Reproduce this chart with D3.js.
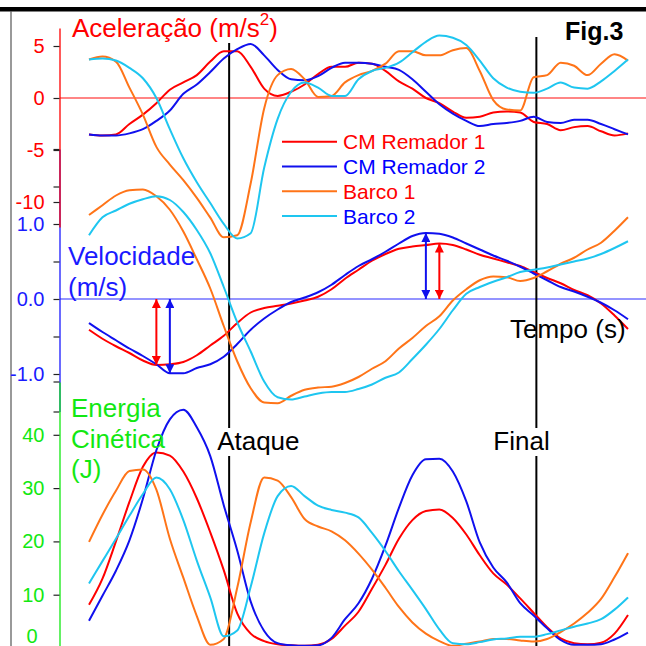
<!DOCTYPE html>
<html>
<head>
<meta charset="utf-8">
<script src="https://cdn.jsdelivr.net/npm/d3@7"></script>
<style>
body { margin: 0; background: #fff; }
svg { display: block; font-family: "Liberation Sans", Arial, sans-serif; }
</style>
</head>
<body>
<svg id="chart" width="646" height="646"></svg>
<script>
'use strict';
// tempo (s): one sample every 0.05 s
const tempo = d3.range(41).map(i => +(i * 0.05).toFixed(2))

const series = ["CM Remador 1", "CM Remador 2", "Barco 1", "Barco 2"]
const cores = ["#ff0000", "#1010ee", "#ff7418", "#1ec6f0"]
const coresTexto = ["#ff0000", "#0000ff", "#ff0000", "#0000ff"]

// Aceleração (m/s2)
const acelRemador1 = [-3.5,-3.6,-3.5,-2.5,-1.6,-0.5,0.8,1.5,2.2,3.5,4.5,4.5,3.0,0.9,0.2,0.6,1.3,2.3,3.0,3.0,3.4,3.3,2.6,1.6,0.9,0.0,-0.5,-1.3,-1.9,-1.8,-1.4,-1.3,-1.4,-2.3,-2.5,-3.1,-2.8,-2.7,-3.2,-3.6,-3.4]
const acelRemador2 = [-3.5,-3.6,-3.6,-3.4,-3.0,-2.2,-1.2,0.4,1.3,2.5,3.8,4.7,5.2,4.1,2.7,1.8,1.7,2.1,2.9,3.4,3.4,3.3,3.0,2.7,1.8,0.6,-0.6,-1.5,-2.2,-2.7,-2.5,-2.4,-2.2,-1.8,-2.3,-2.4,-2.1,-2.1,-2.5,-3.0,-3.5]
const acelBarco1 = [3.7,4.0,3.5,1.0,-1.6,-4.7,-6.4,-7.9,-9.6,-11.5,-13.4,-13.2,-8.2,-1.0,2.2,2.8,1.8,0.1,0.2,1.5,2.2,2.6,3.3,4.5,4.5,4.1,4.1,4.6,4.8,2.6,-0.2,-1.1,-1.2,2.0,2.2,3.4,3.1,2.2,3.3,4.2,3.6]
const acelBarco2 = [3.7,3.8,3.6,2.9,1.9,0.0,-3.0,-5.8,-8.1,-10.1,-12.1,-13.5,-13.0,-6.7,-2.0,0.6,1.5,1.0,0.2,0.2,1.8,2.6,2.9,3.4,4.4,5.4,6.0,5.8,5.1,3.6,1.9,1.0,0.6,0.5,0.9,1.5,1.0,0.9,1.6,2.6,3.7]

// Velocidade (m/s)
const velRemador1 = [-0.41,-0.53,-0.63,-0.72,-0.82,-0.88,-0.87,-0.84,-0.75,-0.62,-0.49,-0.32,-0.18,-0.12,-0.09,-0.06,-0.02,0.03,0.13,0.27,0.39,0.51,0.60,0.67,0.70,0.72,0.74,0.72,0.66,0.59,0.54,0.49,0.44,0.36,0.28,0.21,0.12,0.05,-0.06,-0.22,-0.40]
const velRemador2 = [-0.32,-0.44,-0.55,-0.66,-0.76,-0.87,-0.99,-0.99,-0.92,-0.87,-0.77,-0.60,-0.41,-0.26,-0.14,-0.04,0.02,0.09,0.19,0.32,0.44,0.53,0.63,0.74,0.84,0.88,0.87,0.82,0.74,0.66,0.58,0.51,0.43,0.34,0.25,0.16,0.10,0.03,-0.05,-0.15,-0.27]
const velBarco1 = [1.12,1.25,1.38,1.45,1.46,1.37,1.19,0.90,0.53,0.14,-0.36,-0.83,-1.19,-1.38,-1.39,-1.29,-1.21,-1.18,-1.17,-1.12,-1.04,-0.93,-0.83,-0.66,-0.52,-0.36,-0.23,-0.02,0.13,0.25,0.30,0.29,0.24,0.28,0.37,0.47,0.55,0.66,0.75,0.91,1.09]
const velBarco2 = [0.85,1.09,1.18,1.27,1.33,1.37,1.32,1.16,0.92,0.61,0.16,-0.31,-0.70,-1.10,-1.31,-1.34,-1.30,-1.26,-1.24,-1.24,-1.20,-1.14,-1.05,-0.98,-0.80,-0.61,-0.40,-0.15,0.07,0.16,0.23,0.29,0.36,0.39,0.42,0.46,0.50,0.54,0.60,0.68,0.77]

// Energia cinética (J)
const enRemador1 = [8.1,13.0,20.0,27.4,34.0,36.7,36.1,33.1,28.1,21.7,14.6,6.5,2.7,1.3,0.7,0.5,0.4,0.6,1.7,4.2,6.8,11.1,15.6,20.5,24.0,25.7,26.0,24.4,21.3,17.4,14.0,11.9,9.3,6.6,3.9,1.8,0.9,0.7,1.0,2.7,6.2]
const enRemador2 = [5.1,9.8,14.5,20.2,28.0,37.1,42.9,44.7,41.4,36.0,26.8,18.3,8.7,3.2,0.9,0.5,0.4,0.5,1.9,5.4,8.4,13.0,19.2,26.3,32.4,35.4,35.5,33.1,27.5,19.8,15.1,12.3,8.4,6.1,3.7,1.5,0.6,0.6,0.7,1.6,2.9]
const enBarco1 = [19.9,25.0,29.5,33.2,33.5,29.7,20.5,13.2,6.0,0.6,1.7,11.3,23.6,32.0,31.4,28.3,24.2,22.8,21.9,20.2,17.7,14.7,11.3,7.7,4.8,2.7,1.3,0.4,0.8,1.2,1.7,1.7,1.4,1.2,1.7,3.0,4.6,6.6,9.2,13.3,17.8]
const enBarco2 = [12.1,16.3,20.5,24.8,28.9,32.0,29.8,24.0,16.4,9.5,2.2,3.3,11.5,21.5,28.5,30.4,28.5,26.7,25.9,25.4,24.5,21.6,18.2,14.4,10.9,7.3,3.5,0.9,0.7,1.1,1.6,1.8,2.1,2.1,2.6,3.3,4.0,4.6,5.4,7.2,9.5]

// fases da remada
const eventos = ["Ataque", "Final"]
const eventosT = [0.52, 1.66]

const acelTicks = [5, 0, -5, -10]
const velTicks = [-1.5, -1, -0.5, 0, 0.5, 1, 1.5, 2]
const velRotulos = [-1, 0, 1]
const enTicks = [0, 10, 20, 30, 40, 50]

let eSvg = d3.select("#chart")
const fonte = "Liberation Sans, Arial, sans-serif"
const verde = "#12e812"

// scales, one shared time axis and three stacked value axes
let x = d3.scaleLinear().domain([0, 2]).range([89, 628])
let yAcel = d3.scaleLinear().domain([-10, 5]).range([202, 46])
let yVel = d3.scaleLinear().domain([-1.5, 2]).range([411.5, 149])
let yEn = d3.scaleLinear().domain([0, 50]).range([648, 381.5])

eSvg.append("rect").attr("width", 646).attr("height", 646).attr("fill", "#fff")

// frame bits
eSvg.append("rect").attr("x", 0).attr("y", 7).attr("width", 646).attr("height", 4.5).attr("fill", "#000")
eSvg.append("line").attr("x1", 11).attr("x2", 11).attr("y1", 11).attr("y2", 646)
	.attr("stroke", "#555").attr("stroke-width", 1.2)

// zero lines
eSvg.append("line").attr("x1", 60).attr("x2", 646)
	.attr("y1", yAcel(0)).attr("y2", yAcel(0))
	.attr("stroke", "#ff5c5c").attr("stroke-width", 1.5)
eSvg.append("line").attr("x1", 60).attr("x2", 646)
	.attr("y1", yVel(0)).attr("y2", yVel(0))
	.attr("stroke", "#2a2aff").attr("stroke-width", 1.2)

// vertical markers
let topos = [43, 37]
eventos.forEach((nome, i) => {
	eSvg.append("line").attr("x1", x(eventosT[i])).attr("x2", x(eventosT[i]))
		.attr("y1", topos[i]).attr("y2", 646)
		.attr("stroke", "#000").attr("stroke-width", 2)})

// curves
let paineis = [
	{y: yAcel, dados: [acelRemador1, acelRemador2, acelBarco1, acelBarco2]},
	{y: yVel, dados: [velRemador1, velRemador2, velBarco1, velBarco2]},
	{y: yEn, dados: [enRemador1, enRemador2, enBarco1, enBarco2]}]

paineis.forEach(p => {
	let linha = d3.line()
		.x((d, i) => x(tempo[i]))
		.y(d => p.y(d))
		.curve(d3.curveMonotoneX)
	eSvg.append("g").selectAll("path")
		.data(p.dados)
		.enter()
		.append("path")
		.attr("d", linha)
		.attr("fill", "none")
		.attr("stroke", (d, i) => cores[i])
		.attr("stroke-width", 2)
		.attr("stroke-linejoin", "round")})

// axes: the domain path is stretched to where each axis line runs
function eixo(escala, y0, y1, ticks, fmt, cor) {
	let s = escala.copy().domain([escala.invert(y1), escala.invert(y0)]).range([y1, y0])
	let g = eSvg.append("g").attr("transform", "translate(59.5,0)")
		.call(d3.axisLeft(s).tickValues(ticks).tickFormat(fmt)
			.tickSize(6).tickPadding(9).tickSizeOuter(0))
	g.attr("font-size", 20).attr("font-family", fonte)
	g.select(".domain").attr("stroke", cor).attr("stroke-width", 1.3)
	g.selectAll(".tick line").attr("stroke", "#222").attr("stroke-width", 1.2)
	g.selectAll(".tick text").attr("fill", cor)
	return g}

eixo(yVel, 149, 411.5, velTicks, d => velRotulos.includes(d) ? d.toFixed(1) : "", "#1a1aff")
eixo(yAcel, 28, 227, acelTicks, d => String(d), "#ff0000")
let gEn = eixo(yEn, 382, 646, enTicks, d => d < 50 ? String(d) : "", verde)
gEn.selectAll(".tick").filter(d => d === 0).select("text")
	.attr("y", -12).attr("x", -22)

// velocity extremes as double arrows
let defs = eSvg.append("defs")
;[0, 1].forEach(i => {
	defs.append("marker").attr("id", "seta" + i)
		.attr("viewBox", "0 0 10 10").attr("refX", 10).attr("refY", 5)
		.attr("markerUnits", "userSpaceOnUse")
		.attr("markerWidth", 12).attr("markerHeight", 9)
		.attr("orient", "auto-start-reverse")
		.append("path").attr("d", "M0,0L10,5L0,10z").attr("fill", cores[i])})

let vels = [velRemador1, velRemador2]
vels.forEach((v, i) => {
	let iMin = d3.minIndex(v), iMax = d3.maxIndex(v)
	;[iMin, iMax].forEach(k => {
		eSvg.append("line")
			.attr("x1", x(tempo[k])).attr("x2", x(tempo[k]))
			.attr("y1", yVel(0)).attr("y2", yVel(v[k]))
			.attr("stroke", cores[i]).attr("stroke-width", 2)
			.attr("marker-start", `url(#seta${i})`)
			.attr("marker-end", `url(#seta${i})`)})})

// event labels over a white patch
let dxEvento = [-12, -43]
eventos.forEach((nome, i) => {
	let g = eSvg.append("g")
	let t = g.append("text").attr("x", x(eventosT[i]) + dxEvento[i]).attr("y", 450)
		.attr("font-size", 26).attr("fill", "#000").text(nome)
	let b = t.node().getBBox()
	g.insert("rect", "text").attr("x", b.x - 1).attr("y", b.y + 2)
		.attr("width", b.width + 2).attr("height", b.height - 2).attr("fill", "#fff")})

// titles
let tAcel = eSvg.append("text").attr("x", 72).attr("y", 37)
	.attr("font-size", 26).attr("fill", "#ff0000")
tAcel.append("tspan").text("Aceleração (m/s")
tAcel.append("tspan").attr("dy", -12).attr("font-size", 17).text("2")
tAcel.append("tspan").attr("dy", 12).text(")")

eSvg.append("text").attr("x", 565).attr("y", 40)
	.attr("font-size", 25).attr("font-weight", "bold").attr("fill", "#000").text("Fig.3")

let tVel = eSvg.append("text").attr("font-size", 26).attr("fill", "#1a1aff")
tVel.append("tspan").attr("x", 68).attr("y", 265).text("Velocidade")
tVel.append("tspan").attr("x", 68).attr("y", 296).text("(m/s)")

let tEn = eSvg.append("text").attr("font-size", 26).attr("fill", verde)
;["Energia", "Cinética", "(J)"].forEach((s, i) => {
	tEn.append("tspan").attr("x", 71).attr("y", 417 + i * 30.5).text(s)})

eSvg.append("text").attr("x", 510).attr("y", 338)
	.attr("font-size", 26).attr("fill", "#000").text("Tempo (s)")

// legend
let gLeg = eSvg.append("g")
series.forEach((s, i) => {
	let yy = 141.7 + i * 24.8
	gLeg.append("line").attr("x1", 282).attr("x2", 337).attr("y1", yy).attr("y2", yy)
		.attr("stroke", cores[i]).attr("stroke-width", 2)
	gLeg.append("text").attr("x", 343).attr("y", yy + 7.5)
		.attr("font-size", 21).attr("fill", coresTexto[i]).text(s)})
</script>
</body>
</html>
